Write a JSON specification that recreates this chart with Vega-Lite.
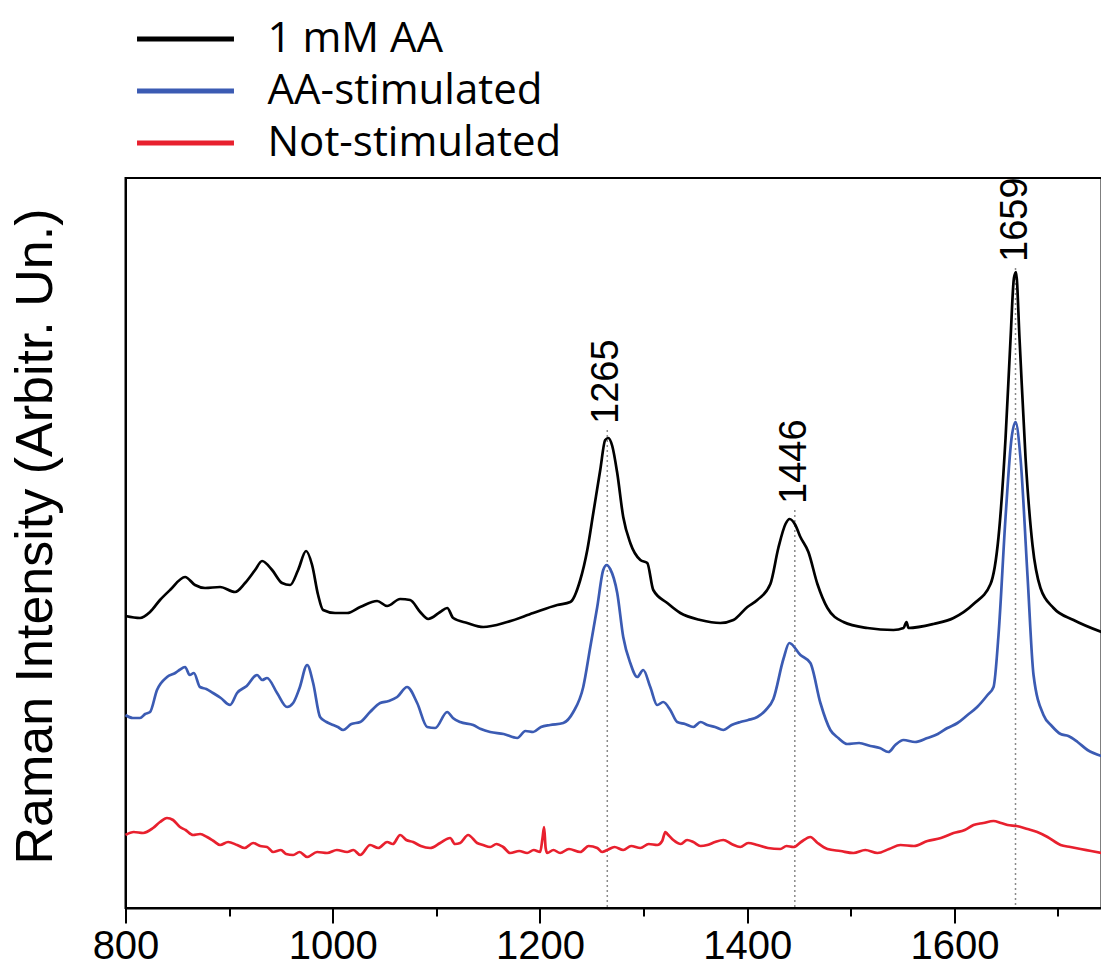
{
  "$schema": "https://vega.github.io/schema/vega-lite/v6.json",
  "width": 976,
  "height": 730,
  "autosize": {"type": "none"},
  "padding": {"left": 125.5, "top": 178, "right": 0, "bottom": 58},
  "background": "white",
  "config": {"view": {"stroke": "black", "strokeWidth": 2}, "font": "Liberation Sans"},
  "datasets": {
    "peaks": [
      {"wavenumber": 1265, "intensity": 478, "label": "1265"},
      {"wavenumber": 1446, "intensity": 398, "label": "1446"},
      {"wavenumber": 1659, "intensity": 640, "label": "1659"}
    ],
    "spectra": [
      {"series": "1 mM AA", "wavenumber": 800, "intensity": 292},
      {"series": "1 mM AA", "wavenumber": 814, "intensity": 290},
      {"series": "1 mM AA", "wavenumber": 823.7, "intensity": 296},
      {"series": "1 mM AA", "wavenumber": 833.3, "intensity": 308},
      {"series": "1 mM AA", "wavenumber": 843, "intensity": 318},
      {"series": "1 mM AA", "wavenumber": 857.5, "intensity": 331},
      {"series": "1 mM AA", "wavenumber": 867.1, "intensity": 323},
      {"series": "1 mM AA", "wavenumber": 876.8, "intensity": 320},
      {"series": "1 mM AA", "wavenumber": 891.3, "intensity": 321},
      {"series": "1 mM AA", "wavenumber": 905.7, "intensity": 316},
      {"series": "1 mM AA", "wavenumber": 915.4, "intensity": 325},
      {"series": "1 mM AA", "wavenumber": 925.1, "intensity": 338},
      {"series": "1 mM AA", "wavenumber": 931.8, "intensity": 347},
      {"series": "1 mM AA", "wavenumber": 941.5, "intensity": 338},
      {"series": "1 mM AA", "wavenumber": 951.1, "intensity": 325},
      {"series": "1 mM AA", "wavenumber": 958.9, "intensity": 323},
      {"series": "1 mM AA", "wavenumber": 966.6, "intensity": 338},
      {"series": "1 mM AA", "wavenumber": 974.3, "intensity": 357},
      {"series": "1 mM AA", "wavenumber": 980.1, "intensity": 343},
      {"series": "1 mM AA", "wavenumber": 985.9, "intensity": 313},
      {"series": "1 mM AA", "wavenumber": 990.7, "intensity": 298},
      {"series": "1 mM AA", "wavenumber": 1002.3, "intensity": 295},
      {"series": "1 mM AA", "wavenumber": 1013.9, "intensity": 295},
      {"series": "1 mM AA", "wavenumber": 1026.5, "intensity": 301},
      {"series": "1 mM AA", "wavenumber": 1042.9, "intensity": 307},
      {"series": "1 mM AA", "wavenumber": 1052.5, "intensity": 302},
      {"series": "1 mM AA", "wavenumber": 1065.1, "intensity": 309},
      {"series": "1 mM AA", "wavenumber": 1074.7, "intensity": 308},
      {"series": "1 mM AA", "wavenumber": 1084.4, "intensity": 296},
      {"series": "1 mM AA", "wavenumber": 1092.1, "intensity": 289},
      {"series": "1 mM AA", "wavenumber": 1103.7, "intensity": 296},
      {"series": "1 mM AA", "wavenumber": 1110.5, "intensity": 300},
      {"series": "1 mM AA", "wavenumber": 1116.3, "intensity": 290},
      {"series": "1 mM AA", "wavenumber": 1129.8, "intensity": 285},
      {"series": "1 mM AA", "wavenumber": 1145.3, "intensity": 281},
      {"series": "1 mM AA", "wavenumber": 1168.4, "intensity": 286},
      {"series": "1 mM AA", "wavenumber": 1193.5, "intensity": 295},
      {"series": "1 mM AA", "wavenumber": 1216.7, "intensity": 303},
      {"series": "1 mM AA", "wavenumber": 1229.3, "intensity": 306},
      {"series": "1 mM AA", "wavenumber": 1238.9, "intensity": 328},
      {"series": "1 mM AA", "wavenumber": 1245.7, "intensity": 358},
      {"series": "1 mM AA", "wavenumber": 1251.5, "intensity": 395},
      {"series": "1 mM AA", "wavenumber": 1258.2, "intensity": 438},
      {"series": "1 mM AA", "wavenumber": 1263, "intensity": 468},
      {"series": "1 mM AA", "wavenumber": 1266, "intensity": 470},
      {"series": "1 mM AA", "wavenumber": 1269.8, "intensity": 462},
      {"series": "1 mM AA", "wavenumber": 1274.6, "intensity": 435},
      {"series": "1 mM AA", "wavenumber": 1280.4, "intensity": 391},
      {"series": "1 mM AA", "wavenumber": 1287.2, "intensity": 365},
      {"series": "1 mM AA", "wavenumber": 1296.9, "intensity": 348},
      {"series": "1 mM AA", "wavenumber": 1303.6, "intensity": 345},
      {"series": "1 mM AA", "wavenumber": 1309.4, "intensity": 318},
      {"series": "1 mM AA", "wavenumber": 1322.9, "intensity": 305},
      {"series": "1 mM AA", "wavenumber": 1335.5, "intensity": 295},
      {"series": "1 mM AA", "wavenumber": 1354.8, "intensity": 288},
      {"series": "1 mM AA", "wavenumber": 1374.1, "intensity": 285},
      {"series": "1 mM AA", "wavenumber": 1386.7, "intensity": 288},
      {"series": "1 mM AA", "wavenumber": 1400.2, "intensity": 301},
      {"series": "1 mM AA", "wavenumber": 1409.8, "intensity": 308},
      {"series": "1 mM AA", "wavenumber": 1422.4, "intensity": 324},
      {"series": "1 mM AA", "wavenumber": 1430.1, "intensity": 360},
      {"series": "1 mM AA", "wavenumber": 1437, "intensity": 384},
      {"series": "1 mM AA", "wavenumber": 1441, "intensity": 389},
      {"series": "1 mM AA", "wavenumber": 1446.5, "intensity": 383},
      {"series": "1 mM AA", "wavenumber": 1451.4, "intensity": 371},
      {"series": "1 mM AA", "wavenumber": 1459.1, "intensity": 356},
      {"series": "1 mM AA", "wavenumber": 1467.8, "intensity": 324},
      {"series": "1 mM AA", "wavenumber": 1477.5, "intensity": 300},
      {"series": "1 mM AA", "wavenumber": 1492.9, "intensity": 286},
      {"series": "1 mM AA", "wavenumber": 1516.1, "intensity": 280},
      {"series": "1 mM AA", "wavenumber": 1541.2, "intensity": 278},
      {"series": "1 mM AA", "wavenumber": 1550.9, "intensity": 280},
      {"series": "1 mM AA", "wavenumber": 1553.8, "intensity": 286},
      {"series": "1 mM AA", "wavenumber": 1555.7, "intensity": 280},
      {"series": "1 mM AA", "wavenumber": 1579.8, "intensity": 284},
      {"series": "1 mM AA", "wavenumber": 1599.2, "intensity": 290},
      {"series": "1 mM AA", "wavenumber": 1618.5, "intensity": 304},
      {"series": "1 mM AA", "wavenumber": 1634.9, "intensity": 324},
      {"series": "1 mM AA", "wavenumber": 1642.6, "intensity": 371},
      {"series": "1 mM AA", "wavenumber": 1649.4, "intensity": 470},
      {"series": "1 mM AA", "wavenumber": 1654.2, "intensity": 569},
      {"series": "1 mM AA", "wavenumber": 1657.5, "intensity": 630},
      {"series": "1 mM AA", "wavenumber": 1659.5, "intensity": 636},
      {"series": "1 mM AA", "wavenumber": 1662.9, "intensity": 569},
      {"series": "1 mM AA", "wavenumber": 1668.7, "intensity": 450},
      {"series": "1 mM AA", "wavenumber": 1675.4, "intensity": 363},
      {"series": "1 mM AA", "wavenumber": 1683.1, "intensity": 320},
      {"series": "1 mM AA", "wavenumber": 1695.7, "intensity": 300},
      {"series": "1 mM AA", "wavenumber": 1715, "intensity": 288},
      {"series": "1 mM AA", "wavenumber": 1742, "intensity": 276},

      {"series": "AA-stimulated", "wavenumber": 800, "intensity": 193},
      {"series": "AA-stimulated", "wavenumber": 807, "intensity": 190},
      {"series": "AA-stimulated", "wavenumber": 814, "intensity": 190},
      {"series": "AA-stimulated", "wavenumber": 819, "intensity": 194},
      {"series": "AA-stimulated", "wavenumber": 823.7, "intensity": 196},
      {"series": "AA-stimulated", "wavenumber": 830.4, "intensity": 218},
      {"series": "AA-stimulated", "wavenumber": 840.1, "intensity": 231},
      {"series": "AA-stimulated", "wavenumber": 848, "intensity": 235},
      {"series": "AA-stimulated", "wavenumber": 852, "intensity": 238},
      {"series": "AA-stimulated", "wavenumber": 857.5, "intensity": 241},
      {"series": "AA-stimulated", "wavenumber": 862, "intensity": 233},
      {"series": "AA-stimulated", "wavenumber": 866, "intensity": 235},
      {"series": "AA-stimulated", "wavenumber": 871.9, "intensity": 221},
      {"series": "AA-stimulated", "wavenumber": 878, "intensity": 219},
      {"series": "AA-stimulated", "wavenumber": 884.5, "intensity": 215},
      {"series": "AA-stimulated", "wavenumber": 892, "intensity": 210},
      {"series": "AA-stimulated", "wavenumber": 900.9, "intensity": 203},
      {"series": "AA-stimulated", "wavenumber": 907.7, "intensity": 215},
      {"series": "AA-stimulated", "wavenumber": 917, "intensity": 222},
      {"series": "AA-stimulated", "wavenumber": 927, "intensity": 233},
      {"series": "AA-stimulated", "wavenumber": 932, "intensity": 228},
      {"series": "AA-stimulated", "wavenumber": 936.6, "intensity": 230},
      {"series": "AA-stimulated", "wavenumber": 946.3, "intensity": 215},
      {"series": "AA-stimulated", "wavenumber": 955.9, "intensity": 201},
      {"series": "AA-stimulated", "wavenumber": 961.8, "intensity": 205},
      {"series": "AA-stimulated", "wavenumber": 968, "intensity": 220},
      {"series": "AA-stimulated", "wavenumber": 975.3, "intensity": 243},
      {"series": "AA-stimulated", "wavenumber": 981.1, "intensity": 225},
      {"series": "AA-stimulated", "wavenumber": 987.8, "intensity": 191},
      {"series": "AA-stimulated", "wavenumber": 994, "intensity": 186},
      {"series": "AA-stimulated", "wavenumber": 1000.4, "intensity": 183},
      {"series": "AA-stimulated", "wavenumber": 1005, "intensity": 181},
      {"series": "AA-stimulated", "wavenumber": 1010, "intensity": 178},
      {"series": "AA-stimulated", "wavenumber": 1018, "intensity": 184},
      {"series": "AA-stimulated", "wavenumber": 1026.5, "intensity": 186},
      {"series": "AA-stimulated", "wavenumber": 1036, "intensity": 196},
      {"series": "AA-stimulated", "wavenumber": 1045.8, "intensity": 205},
      {"series": "AA-stimulated", "wavenumber": 1054, "intensity": 207},
      {"series": "AA-stimulated", "wavenumber": 1062.2, "intensity": 211},
      {"series": "AA-stimulated", "wavenumber": 1071.8, "intensity": 221},
      {"series": "AA-stimulated", "wavenumber": 1081.5, "intensity": 205},
      {"series": "AA-stimulated", "wavenumber": 1091.2, "intensity": 181},
      {"series": "AA-stimulated", "wavenumber": 1098.9, "intensity": 180},
      {"series": "AA-stimulated", "wavenumber": 1110.5, "intensity": 196},
      {"series": "AA-stimulated", "wavenumber": 1116, "intensity": 190},
      {"series": "AA-stimulated", "wavenumber": 1123, "intensity": 186},
      {"series": "AA-stimulated", "wavenumber": 1135.6, "intensity": 183},
      {"series": "AA-stimulated", "wavenumber": 1143, "intensity": 179},
      {"series": "AA-stimulated", "wavenumber": 1152, "intensity": 176},
      {"series": "AA-stimulated", "wavenumber": 1165, "intensity": 174},
      {"series": "AA-stimulated", "wavenumber": 1178.1, "intensity": 170},
      {"series": "AA-stimulated", "wavenumber": 1186, "intensity": 177},
      {"series": "AA-stimulated", "wavenumber": 1193.5, "intensity": 176},
      {"series": "AA-stimulated", "wavenumber": 1201, "intensity": 181},
      {"series": "AA-stimulated", "wavenumber": 1209.9, "intensity": 183},
      {"series": "AA-stimulated", "wavenumber": 1222.5, "intensity": 185},
      {"series": "AA-stimulated", "wavenumber": 1232.2, "intensity": 196},
      {"series": "AA-stimulated", "wavenumber": 1241.8, "intensity": 221},
      {"series": "AA-stimulated", "wavenumber": 1248.6, "intensity": 261},
      {"series": "AA-stimulated", "wavenumber": 1255.3, "intensity": 301},
      {"series": "AA-stimulated", "wavenumber": 1261.1, "intensity": 338},
      {"series": "AA-stimulated", "wavenumber": 1264.5, "intensity": 343},
      {"series": "AA-stimulated", "wavenumber": 1267.8, "intensity": 339},
      {"series": "AA-stimulated", "wavenumber": 1274.6, "intensity": 315},
      {"series": "AA-stimulated", "wavenumber": 1280.4, "intensity": 271},
      {"series": "AA-stimulated", "wavenumber": 1287.2, "intensity": 245},
      {"series": "AA-stimulated", "wavenumber": 1293.9, "intensity": 231},
      {"series": "AA-stimulated", "wavenumber": 1299.7, "intensity": 238},
      {"series": "AA-stimulated", "wavenumber": 1306.5, "intensity": 221},
      {"series": "AA-stimulated", "wavenumber": 1313.2, "intensity": 203},
      {"series": "AA-stimulated", "wavenumber": 1319, "intensity": 206},
      {"series": "AA-stimulated", "wavenumber": 1325.8, "intensity": 198},
      {"series": "AA-stimulated", "wavenumber": 1332.5, "intensity": 186},
      {"series": "AA-stimulated", "wavenumber": 1340, "intensity": 184},
      {"series": "AA-stimulated", "wavenumber": 1348, "intensity": 181},
      {"series": "AA-stimulated", "wavenumber": 1355, "intensity": 186},
      {"series": "AA-stimulated", "wavenumber": 1361.5, "intensity": 183},
      {"series": "AA-stimulated", "wavenumber": 1369, "intensity": 181},
      {"series": "AA-stimulated", "wavenumber": 1377, "intensity": 178},
      {"series": "AA-stimulated", "wavenumber": 1385, "intensity": 183},
      {"series": "AA-stimulated", "wavenumber": 1393.4, "intensity": 186},
      {"series": "AA-stimulated", "wavenumber": 1401, "intensity": 188},
      {"series": "AA-stimulated", "wavenumber": 1409.8, "intensity": 191},
      {"series": "AA-stimulated", "wavenumber": 1418, "intensity": 198},
      {"series": "AA-stimulated", "wavenumber": 1425.3, "intensity": 209},
      {"series": "AA-stimulated", "wavenumber": 1435, "intensity": 249},
      {"series": "AA-stimulated", "wavenumber": 1440.7, "intensity": 265},
      {"series": "AA-stimulated", "wavenumber": 1451.4, "intensity": 253},
      {"series": "AA-stimulated", "wavenumber": 1461, "intensity": 245},
      {"series": "AA-stimulated", "wavenumber": 1470.7, "intensity": 205},
      {"series": "AA-stimulated", "wavenumber": 1480.3, "intensity": 178},
      {"series": "AA-stimulated", "wavenumber": 1488, "intensity": 170},
      {"series": "AA-stimulated", "wavenumber": 1496.8, "intensity": 164},
      {"series": "AA-stimulated", "wavenumber": 1508, "intensity": 165},
      {"series": "AA-stimulated", "wavenumber": 1519, "intensity": 162},
      {"series": "AA-stimulated", "wavenumber": 1528, "intensity": 160},
      {"series": "AA-stimulated", "wavenumber": 1536.4, "intensity": 156},
      {"series": "AA-stimulated", "wavenumber": 1543, "intensity": 163},
      {"series": "AA-stimulated", "wavenumber": 1550.9, "intensity": 168},
      {"series": "AA-stimulated", "wavenumber": 1562, "intensity": 166},
      {"series": "AA-stimulated", "wavenumber": 1574, "intensity": 170},
      {"series": "AA-stimulated", "wavenumber": 1584, "intensity": 174},
      {"series": "AA-stimulated", "wavenumber": 1593.3, "intensity": 180},
      {"series": "AA-stimulated", "wavenumber": 1603, "intensity": 185},
      {"series": "AA-stimulated", "wavenumber": 1612.7, "intensity": 193},
      {"series": "AA-stimulated", "wavenumber": 1622, "intensity": 201},
      {"series": "AA-stimulated", "wavenumber": 1632, "intensity": 213},
      {"series": "AA-stimulated", "wavenumber": 1637.8, "intensity": 221},
      {"series": "AA-stimulated", "wavenumber": 1642.6, "intensity": 273},
      {"series": "AA-stimulated", "wavenumber": 1649.4, "intensity": 391},
      {"series": "AA-stimulated", "wavenumber": 1655.2, "intensity": 470},
      {"series": "AA-stimulated", "wavenumber": 1659, "intensity": 486},
      {"series": "AA-stimulated", "wavenumber": 1663.8, "intensity": 450},
      {"series": "AA-stimulated", "wavenumber": 1670.6, "intensity": 332},
      {"series": "AA-stimulated", "wavenumber": 1676.4, "intensity": 233},
      {"series": "AA-stimulated", "wavenumber": 1686, "intensity": 193},
      {"series": "AA-stimulated", "wavenumber": 1694, "intensity": 182},
      {"series": "AA-stimulated", "wavenumber": 1702.5, "intensity": 174},
      {"series": "AA-stimulated", "wavenumber": 1710, "intensity": 172},
      {"series": "AA-stimulated", "wavenumber": 1718.9, "intensity": 166},
      {"series": "AA-stimulated", "wavenumber": 1728.5, "intensity": 158},
      {"series": "AA-stimulated", "wavenumber": 1742, "intensity": 152},

      {"series": "Not-stimulated", "wavenumber": 800, "intensity": 73},
      {"series": "Not-stimulated", "wavenumber": 808, "intensity": 76},
      {"series": "Not-stimulated", "wavenumber": 817, "intensity": 75},
      {"series": "Not-stimulated", "wavenumber": 826.6, "intensity": 80},
      {"series": "Not-stimulated", "wavenumber": 833.3, "intensity": 86},
      {"series": "Not-stimulated", "wavenumber": 840, "intensity": 90},
      {"series": "Not-stimulated", "wavenumber": 845.9, "intensity": 88},
      {"series": "Not-stimulated", "wavenumber": 852.6, "intensity": 81},
      {"series": "Not-stimulated", "wavenumber": 858, "intensity": 78},
      {"series": "Not-stimulated", "wavenumber": 865.2, "intensity": 73},
      {"series": "Not-stimulated", "wavenumber": 872, "intensity": 74},
      {"series": "Not-stimulated", "wavenumber": 878.7, "intensity": 71},
      {"series": "Not-stimulated", "wavenumber": 885, "intensity": 67},
      {"series": "Not-stimulated", "wavenumber": 891.3, "intensity": 63},
      {"series": "Not-stimulated", "wavenumber": 899, "intensity": 66},
      {"series": "Not-stimulated", "wavenumber": 907.7, "intensity": 63},
      {"series": "Not-stimulated", "wavenumber": 915, "intensity": 60},
      {"series": "Not-stimulated", "wavenumber": 923.2, "intensity": 65},
      {"series": "Not-stimulated", "wavenumber": 930, "intensity": 62},
      {"series": "Not-stimulated", "wavenumber": 936.6, "intensity": 61},
      {"series": "Not-stimulated", "wavenumber": 942.4, "intensity": 56},
      {"series": "Not-stimulated", "wavenumber": 950, "intensity": 58},
      {"series": "Not-stimulated", "wavenumber": 955, "intensity": 54},
      {"series": "Not-stimulated", "wavenumber": 961.8, "intensity": 53},
      {"series": "Not-stimulated", "wavenumber": 968, "intensity": 56},
      {"series": "Not-stimulated", "wavenumber": 975.3, "intensity": 51},
      {"series": "Not-stimulated", "wavenumber": 985, "intensity": 56},
      {"series": "Not-stimulated", "wavenumber": 994.6, "intensity": 55},
      {"series": "Not-stimulated", "wavenumber": 1004, "intensity": 58},
      {"series": "Not-stimulated", "wavenumber": 1013.9, "intensity": 56},
      {"series": "Not-stimulated", "wavenumber": 1020, "intensity": 58},
      {"series": "Not-stimulated", "wavenumber": 1026.5, "intensity": 53},
      {"series": "Not-stimulated", "wavenumber": 1036.1, "intensity": 63},
      {"series": "Not-stimulated", "wavenumber": 1044, "intensity": 60},
      {"series": "Not-stimulated", "wavenumber": 1052.5, "intensity": 66},
      {"series": "Not-stimulated", "wavenumber": 1058, "intensity": 64},
      {"series": "Not-stimulated", "wavenumber": 1065.1, "intensity": 73},
      {"series": "Not-stimulated", "wavenumber": 1071, "intensity": 68},
      {"series": "Not-stimulated", "wavenumber": 1077.6, "intensity": 66},
      {"series": "Not-stimulated", "wavenumber": 1085, "intensity": 62},
      {"series": "Not-stimulated", "wavenumber": 1094, "intensity": 60},
      {"series": "Not-stimulated", "wavenumber": 1103.7, "intensity": 65},
      {"series": "Not-stimulated", "wavenumber": 1113.3, "intensity": 70},
      {"series": "Not-stimulated", "wavenumber": 1118, "intensity": 64},
      {"series": "Not-stimulated", "wavenumber": 1123, "intensity": 65},
      {"series": "Not-stimulated", "wavenumber": 1130.7, "intensity": 73},
      {"series": "Not-stimulated", "wavenumber": 1139.4, "intensity": 65},
      {"series": "Not-stimulated", "wavenumber": 1145, "intensity": 63},
      {"series": "Not-stimulated", "wavenumber": 1152, "intensity": 61},
      {"series": "Not-stimulated", "wavenumber": 1158, "intensity": 64},
      {"series": "Not-stimulated", "wavenumber": 1164.5, "intensity": 61},
      {"series": "Not-stimulated", "wavenumber": 1171.3, "intensity": 55},
      {"series": "Not-stimulated", "wavenumber": 1180, "intensity": 57},
      {"series": "Not-stimulated", "wavenumber": 1187.7, "intensity": 55},
      {"series": "Not-stimulated", "wavenumber": 1194, "intensity": 58},
      {"series": "Not-stimulated", "wavenumber": 1200.2, "intensity": 56},
      {"series": "Not-stimulated", "wavenumber": 1202.5, "intensity": 70},
      {"series": "Not-stimulated", "wavenumber": 1204, "intensity": 81},
      {"series": "Not-stimulated", "wavenumber": 1205.5, "intensity": 60},
      {"series": "Not-stimulated", "wavenumber": 1207, "intensity": 55},
      {"series": "Not-stimulated", "wavenumber": 1213, "intensity": 58},
      {"series": "Not-stimulated", "wavenumber": 1219.5, "intensity": 55},
      {"series": "Not-stimulated", "wavenumber": 1228, "intensity": 59},
      {"series": "Not-stimulated", "wavenumber": 1238.9, "intensity": 56},
      {"series": "Not-stimulated", "wavenumber": 1247, "intensity": 62},
      {"series": "Not-stimulated", "wavenumber": 1255.3, "intensity": 60},
      {"series": "Not-stimulated", "wavenumber": 1260, "intensity": 56},
      {"series": "Not-stimulated", "wavenumber": 1265, "intensity": 58},
      {"series": "Not-stimulated", "wavenumber": 1272, "intensity": 61},
      {"series": "Not-stimulated", "wavenumber": 1280.4, "intensity": 58},
      {"series": "Not-stimulated", "wavenumber": 1288, "intensity": 62},
      {"series": "Not-stimulated", "wavenumber": 1296.9, "intensity": 60},
      {"series": "Not-stimulated", "wavenumber": 1305, "intensity": 64},
      {"series": "Not-stimulated", "wavenumber": 1313.3, "intensity": 63},
      {"series": "Not-stimulated", "wavenumber": 1318, "intensity": 67},
      {"series": "Not-stimulated", "wavenumber": 1321, "intensity": 76},
      {"series": "Not-stimulated", "wavenumber": 1323, "intensity": 74},
      {"series": "Not-stimulated", "wavenumber": 1328.7, "intensity": 68},
      {"series": "Not-stimulated", "wavenumber": 1336, "intensity": 64},
      {"series": "Not-stimulated", "wavenumber": 1342, "intensity": 68},
      {"series": "Not-stimulated", "wavenumber": 1348, "intensity": 66},
      {"series": "Not-stimulated", "wavenumber": 1355, "intensity": 62},
      {"series": "Not-stimulated", "wavenumber": 1361.5, "intensity": 63},
      {"series": "Not-stimulated", "wavenumber": 1369, "intensity": 66},
      {"series": "Not-stimulated", "wavenumber": 1377, "intensity": 68},
      {"series": "Not-stimulated", "wavenumber": 1385, "intensity": 64},
      {"series": "Not-stimulated", "wavenumber": 1393.4, "intensity": 61},
      {"series": "Not-stimulated", "wavenumber": 1401, "intensity": 65},
      {"series": "Not-stimulated", "wavenumber": 1409.8, "intensity": 63},
      {"series": "Not-stimulated", "wavenumber": 1420, "intensity": 60},
      {"series": "Not-stimulated", "wavenumber": 1432, "intensity": 59},
      {"series": "Not-stimulated", "wavenumber": 1438, "intensity": 62},
      {"series": "Not-stimulated", "wavenumber": 1444.6, "intensity": 61},
      {"series": "Not-stimulated", "wavenumber": 1452, "intensity": 66},
      {"series": "Not-stimulated", "wavenumber": 1461, "intensity": 71},
      {"series": "Not-stimulated", "wavenumber": 1468, "intensity": 65},
      {"series": "Not-stimulated", "wavenumber": 1477.5, "intensity": 59},
      {"series": "Not-stimulated", "wavenumber": 1490, "intensity": 57},
      {"series": "Not-stimulated", "wavenumber": 1502.6, "intensity": 55},
      {"series": "Not-stimulated", "wavenumber": 1514, "intensity": 58},
      {"series": "Not-stimulated", "wavenumber": 1525.8, "intensity": 55},
      {"series": "Not-stimulated", "wavenumber": 1537, "intensity": 59},
      {"series": "Not-stimulated", "wavenumber": 1548, "intensity": 63},
      {"series": "Not-stimulated", "wavenumber": 1561, "intensity": 62},
      {"series": "Not-stimulated", "wavenumber": 1574, "intensity": 67},
      {"series": "Not-stimulated", "wavenumber": 1587, "intensity": 70},
      {"series": "Not-stimulated", "wavenumber": 1599.2, "intensity": 75},
      {"series": "Not-stimulated", "wavenumber": 1610, "intensity": 78},
      {"series": "Not-stimulated", "wavenumber": 1618.5, "intensity": 83},
      {"series": "Not-stimulated", "wavenumber": 1628, "intensity": 85},
      {"series": "Not-stimulated", "wavenumber": 1637.8, "intensity": 87},
      {"series": "Not-stimulated", "wavenumber": 1645, "intensity": 85},
      {"series": "Not-stimulated", "wavenumber": 1651.3, "intensity": 83},
      {"series": "Not-stimulated", "wavenumber": 1660, "intensity": 82},
      {"series": "Not-stimulated", "wavenumber": 1670.6, "intensity": 79},
      {"series": "Not-stimulated", "wavenumber": 1680, "intensity": 76},
      {"series": "Not-stimulated", "wavenumber": 1689.9, "intensity": 71},
      {"series": "Not-stimulated", "wavenumber": 1702.5, "intensity": 63},
      {"series": "Not-stimulated", "wavenumber": 1712, "intensity": 61},
      {"series": "Not-stimulated", "wavenumber": 1721.8, "intensity": 59},
      {"series": "Not-stimulated", "wavenumber": 1732, "intensity": 57},
      {"series": "Not-stimulated", "wavenumber": 1742, "intensity": 55}
    ]
  },
  "encoding": {
    "x": {
      "field": "wavenumber", "type": "quantitative",
      "scale": {"domain": [800, 1742], "nice": false, "zero": false},
      "axis": {
        "title": null,
        "values": [800, 900, 1000, 1100, 1200, 1300, 1400, 1500, 1600, 1700],
        "labelExpr": "datum.value % 200 === 0 ? datum.label : ''",
        "format": "d",
        "grid": false,
        "domainColor": "black", "domainWidth": 2,
        "tickColor": "black", "tickWidth": 2,
        "tickSize": {"condition": {"test": "datum.value % 200 === 0", "value": 15}, "value": 8},
        "labelFont": "Liberation Sans", "labelFontSize": 40, "labelColor": "black",
        "labelPadding": 3, "labelOverlap": false, "labelFlush": false
      }
    },
    "y": {
      "field": "intensity", "type": "quantitative",
      "scale": {"domain": [0, 730], "nice": false},
      "axis": {
        "title": "Raman Intensity (Arbitr. Un.)",
        "titleFont": "Liberation Sans", "titleFontSize": 52, "titleFontWeight": "normal", "titleColor": "black",
        "titlePadding": 63, "titleY": 358,
        "labels": false, "ticks": false, "grid": false,
        "domainColor": "black", "domainWidth": 2
      }
    }
  },
  "layer": [
    {
      "data": {"name": "peaks"},
      "mark": {"type": "rule", "color": "#8a8a8a", "strokeWidth": 1.5, "strokeDash": [2, 3]},
      "encoding": {
        "y2": {"datum": 0}
      }
    },
    {
      "data": {"name": "spectra"},
      "mark": {"type": "line", "strokeWidth": 2.7, "strokeJoin": "round", "interpolate": "monotone"},
      "encoding": {
        "color": {
          "field": "series", "type": "nominal",
          "scale": {"domain": ["1 mM AA", "AA-stimulated", "Not-stimulated"], "range": ["#000000", "#3b5bb3", "#e8202e"]},
          "legend": {
            "orient": "none", "legendX": 39, "legendY": -160,
            "title": null, "padding": 0,
            "symbolType": "M-5,0L5,0", "symbolSize": 376, "symbolStrokeWidth": 5,
            "labelFont": "Open Sans", "labelFontSize": 42, "labelColor": "black", "labelLimit": 500,
            "labelOffset": 61, "rowPadding": 10,
            "encode": {
              "symbols": {
                "update": {
                  "stroke": {"signal": "datum.value === 'Not-stimulated' ? '#e8416a' : datum.value === 'AA-stimulated' ? '#3b5bb3' : '#000000'"}
                }
              }
            }
          }
        }
      }
    },
    {
      "data": {"name": "peaks"},
      "mark": {"type": "text", "angle": 270, "align": "left", "baseline": "middle", "font": "Liberation Sans", "fontSize": 38, "color": "black", "dx": 6},
      "encoding": {
        "text": {"field": "label"}
      }
    }
  ]
}
